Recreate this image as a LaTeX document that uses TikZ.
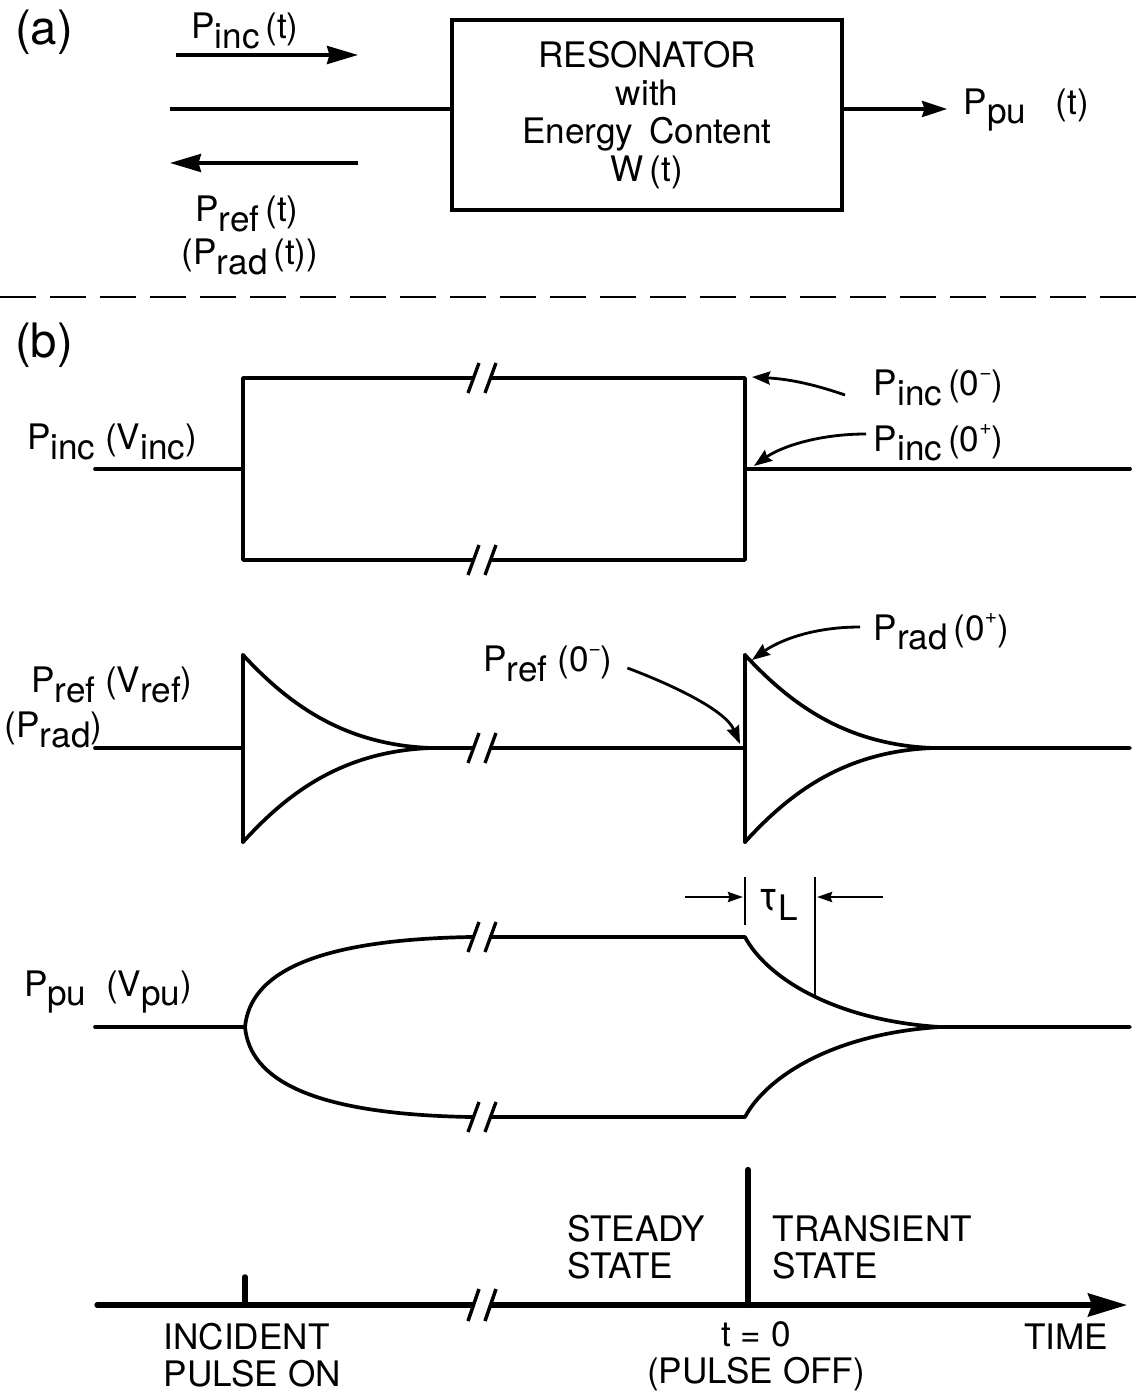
\documentclass[tikz,border=0pt]{standalone}
\usepackage{fontspec}
\setmainfont{TeX Gyre Heros}
\usetikzlibrary{arrows.meta}
\newcommand\lo[1]{\raisebox{-0.5ex}{#1}}
\newcommand\upr[1]{\raisebox{0.9ex}{\fontsize{12}{12}\selectfont #1}}
\tikzset{
  wave/.style={line width=2.1pt, line join=round, line cap=round},
  lbl/.style={inner sep=0pt, font=\fontsize{20}{22}\selectfont},
  biglbl/.style={inner sep=0pt, font=\fontsize{27}{29}\selectfont},
  bigtip/.style={line width=2pt,-{Stealth[length=0.62cm,width=0.36cm,inset=0.05cm]}},
  medtip/.style={line width=2pt,-{Stealth[length=0.5cm,width=0.32cm,inset=0.05cm]}},
  smalltip/.style={line width=1.6pt,-{Stealth[length=0.36cm,width=0.26cm,inset=0.04cm]}},
  tautip/.style={line width=1.5pt,-{Stealth[length=0.3cm,width=0.2cm,inset=0.03cm]}},
  brkmark/.pic={\fill[white] (-8,-4) rectangle (8,4);
     \draw[line width=1.9pt] (-14,15) -- (-3,-15) (3,15) -- (14,-15);},
  brkaxis/.pic={\fill[white] (-8,-5) rectangle (8,5);
     \draw[line width=2pt] (-14,16) -- (-3,-16) (3,16) -- (14,-16);},
}
\begin{document}
\begin{tikzpicture}[x=0.02cm,y=-0.02cm,line width=2.1pt]
\useasboundingbox (0,0) rectangle (1140,1395);
\fill[white] (0,0) rectangle (1140,1395);

% ---------------- (a) ----------------
\node[biglbl] (la) at (44,32) {(a)};
\coordinate (a1s) at (176,55);
\coordinate (a1e) at (358,55);
\draw[bigtip] (a1s) -- (a1e);
\node[lbl] (pinct) at (245,31) {P\lo{inc}\,(t)};
\node[draw,line width=2.1pt,inner sep=0pt,minimum width=7.8cm,minimum height=3.8cm,
      align=center,font=\fontsize{20}{21.6}\selectfont] (box) at (647,115)
      {RESONATOR\\with\\Energy\ \,Content\\W\,(t)};
\coordinate (inL) at (170,109);
\draw (inL) -- (inL -| box.west);
\coordinate (a2s) at (358,163);
\coordinate (a2e) at (170,163);
\draw[bigtip] (a2s) -- (a2e);
\node[lbl] (preft) at (247,214) {P\lo{ref}\,(t)};
\node[lbl] (pradt) at (250,257) {(P\lo{rad}\,(t))};
\node[lbl,anchor=west] (ppuA) at (962,110) {P\lo{pu}\ \ \ (t)};
\coordinate (ppuTip) at (947,109);
\draw[medtip] (inL -| box.east) -- (ppuTip);

\draw[line width=1.7pt, dash pattern=on 0.72cm off 0.28cm] (0,297) -- (1140,297);

% ---------------- (b) ----------------
\node[biglbl] (lb) at (44,345) {(b)};

% row 1: incident
\node[lbl] (pincv) at (112,442) {P\lo{inc}\ (V\lo{inc})};
\coordinate (c1t) at (745,378);
\coordinate (c1m) at (745,469);
\draw[wave] (95,469) -- (243,469);
\draw[wave] (243,378) rectangle (745,560);
\draw[wave] (c1m) -- (1130,469);
\pic at (482,378) {brkmark};
\pic at (482,560) {brkmark};
\node[lbl,anchor=west] (pinc0m) at (872,388) {P\lo{inc}\,(0\upr{−})};
\node[lbl,anchor=west] (pinc0p) at (872,443) {P\lo{inc}\,(0\upr{+})};
\coordinate (t1) at (752,377);
\coordinate (t2) at (754,466);
\draw[smalltip] ([xshift=-0.54cm,yshift=-0.14cm]pinc0m.west) .. controls +(-35,-12) and +(35,2) .. (t1);
\draw[smalltip] ([xshift=-0.12cm,yshift=0.18cm]pinc0p.west) .. controls +(-50,0) and +(25,-18) .. (t2);

% row 2: reflected
\node[lbl] (prefv) at (112,685) {P\lo{ref}\ (V\lo{ref})};
\node[lbl,anchor=west] (pradv) at (3,730) {(P\lo{rad})};
\draw[wave] (95,748) -- (243,748);
\draw[wave] (243,655) -- (243,842);
\draw[wave] (243,655) .. controls (285,700) and (340,745) .. (432,748) -- (745,748);
\draw[wave] (243,842) .. controls (285,796) and (340,751) .. (432,748);
\draw[wave] (745,655) -- (745,842);
\draw[wave] (745,655) .. controls (787,700) and (842,745) .. (934,748) -- (1130,748);
\draw[wave] (745,842) .. controls (787,796) and (842,751) .. (934,748);
\pic at (482,748) {brkmark};
\node[lbl] (pref0m) at (548,664) {P\lo{ref}\ (0\upr{−})};
\node[lbl,anchor=west] (prad0p) at (872,632) {P\lo{rad}\,(0\upr{+})};
\coordinate (t3) at (740,744);
\coordinate (t4) at (752,660);
\draw[smalltip] ([xshift=0.26cm,yshift=-0.08cm]pref0m.east) .. controls +(40,15) and +(-15,-35) .. (t3);
\draw[smalltip] ([xshift=-0.24cm,yshift=0.1cm]prad0p.west) .. controls +(-50,0) and +(25,-18) .. (t4);

% row 3: pick-up
\node[lbl] (ppuv) at (108,992) {P\lo{pu}\ \ (V\lo{pu})};
\draw[wave] (95,1027) -- (245,1027);
\draw[wave] (245,1027) .. controls (250,975) and (310,940) .. (470,937) -- (745,937)
   .. controls (765,975) and (830,1020) .. (940,1027) -- (1130,1027);
\draw[wave] (245,1027) .. controls (250,1079) and (310,1114) .. (470,1117) -- (745,1117)
   .. controls (765,1079) and (830,1034) .. (940,1027);
\pic at (482,937) {brkmark};
\pic at (482,1117) {brkmark};
\coordinate (tk1a) at (745,877);
\coordinate (tk1b) at (745,925);
\coordinate (tk2a) at (815,877);
\coordinate (tk2b) at (815,996);
\draw[line width=1.6pt] (tk1a) -- (tk1b);
\draw[line width=1.6pt] (tk2a) -- (tk2b);
\coordinate (tauL) at (685,897);
\coordinate (tauLe) at (743,897);
\coordinate (tauR) at (883,897);
\coordinate (tauRe) at (817,897);
\draw[tautip] (tauL) -- (tauLe);
\draw[tautip] (tauR) -- (tauRe);
\node[lbl,font=\fontsize{23}{25}\selectfont] (tau) at (778,905) {τ\lo{\fontsize{20}{22}\selectfont L}};

% row 4: time axis
\coordinate (ax0) at (97,1305);
\coordinate (ax1) at (1127,1305);
\draw[line width=3pt, line cap=round, -{Stealth[length=0.78cm,width=0.46cm,inset=0.08cm]}] (ax0) -- (ax1);
\pic at (482,1305) {brkaxis};
\coordinate (on0) at (245,1277);
\coordinate (on1) at (245,1305);
\coordinate (off0) at (748,1170);
\coordinate (off1) at (748,1305);
\draw[line width=3.2pt, line cap=round] (on0) -- (on1);
\draw[line width=3.6pt, line cap=round] (off0) -- (off1);
\node[lbl,anchor=west,align=left,font=\fontsize{20}{21}\selectfont] (steady) at (566,1247) {STEADY\\STATE};
\node[lbl,anchor=west,align=left,font=\fontsize{20}{21}\selectfont] (trans) at (771,1247) {TRANSIENT\\STATE};
\node[lbl,anchor=west,align=left,font=\fontsize{20}{21}\selectfont] (incp) at (162,1355) {INCIDENT\\PULSE ON};
\node[lbl,align=center,font=\fontsize{20}{21}\selectfont] (toff) at (756,1356) {t = 0\\(PULSE OFF)};
\node[lbl] (time) at (1066,1337) {TIME};
\end{tikzpicture}
\end{document}
